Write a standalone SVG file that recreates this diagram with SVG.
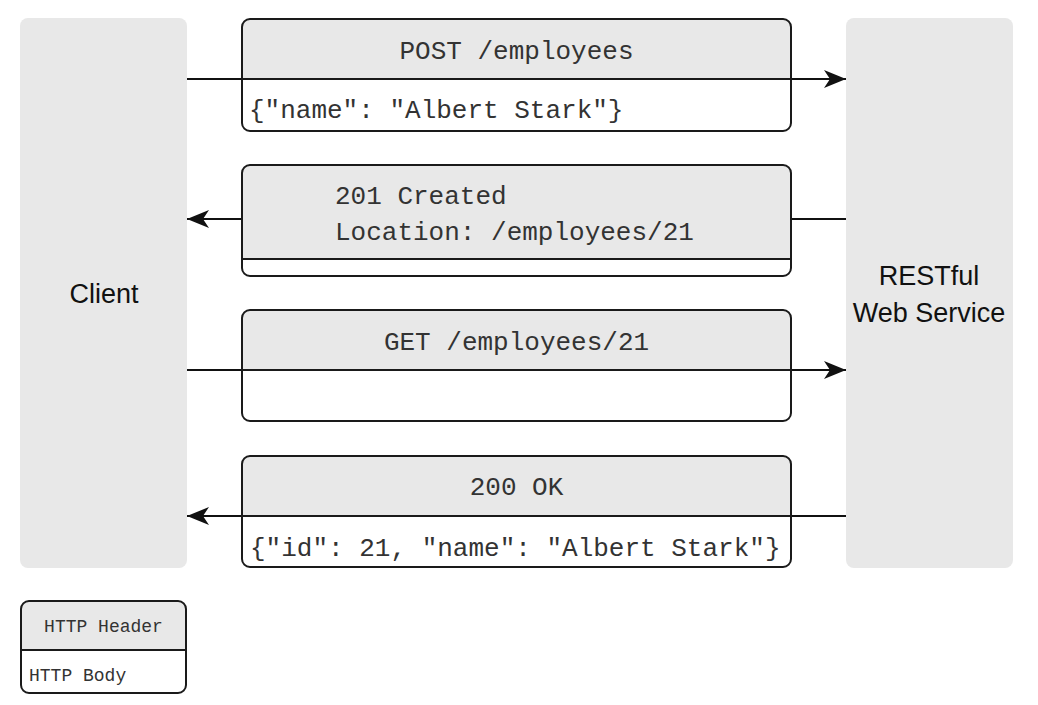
<svg xmlns="http://www.w3.org/2000/svg" width="1038" height="705" viewBox="0 0 1038 705">
<defs>
<style>
.side{fill:#e8e8e8;}
.lbl{font-family:"Liberation Sans",Arial,sans-serif;font-size:27px;fill:#111;text-anchor:middle;}
.mono{font-family:"Liberation Mono","Courier New",monospace;font-size:26px;fill:#333;}
.mid{text-anchor:middle;}
.frame{fill:none;stroke:#1a1a1a;stroke-width:2;}
.body{fill:#fff;}
.head{fill:#e8e8e8;}
.div{stroke:#1a1a1a;stroke-width:2;}
.conn{stroke:#111;stroke-width:2;fill:none;}
.leg{font-family:"Liberation Mono","Courier New",monospace;font-size:18px;fill:#333;}
</style>
<marker id="ah" viewBox="0 0 22 18" refX="22" refY="9" markerWidth="22" markerHeight="18" markerUnits="userSpaceOnUse" orient="auto">
<path d="M0,0 L22,9 L0,18 L6,9 Z" fill="#111"/>
</marker>
</defs>
<rect width="1038" height="705" fill="#fff"/>
<g id="client">
<rect class="side" x="20" y="18" width="167" height="550" rx="8"/>
<text class="lbl" x="104" y="303">Client</text>
</g>
<g id="service">
<rect class="side" x="846" y="18" width="167" height="550" rx="8"/>
<text class="lbl" x="929" y="285">RESTful</text>
<text class="lbl" x="929" y="322">Web Service</text>
</g>
<g id="connectors">
<line class="conn" x1="187" y1="79" x2="846" y2="79" marker-end="url(#ah)"/>
<line class="conn" x1="846" y1="219" x2="187" y2="219" marker-end="url(#ah)"/>
<line class="conn" x1="187" y1="370" x2="846" y2="370" marker-end="url(#ah)"/>
<line class="conn" x1="846" y1="516" x2="187" y2="516" marker-end="url(#ah)"/>
</g>
<g id="post-request">
<rect class="body" x="242" y="19" width="549" height="112" rx="8"/>
<path class="head" d="M242,79 V27 a8,8 0 0 1 8,-8 H783 a8,8 0 0 1 8,8 V79 Z"/>
<line class="div" x1="242" y1="79" x2="791" y2="79"/>
<rect class="frame" x="242" y="19" width="549" height="112" rx="8"/>
<text class="mono mid" x="516.5" y="59">POST /employees</text>
<text class="mono" x="249" y="118">{"name": "Albert Stark"}</text>
</g>
<g id="created-response">
<rect class="body" x="242" y="165" width="549" height="111" rx="8"/>
<path class="head" d="M242,259 V173 a8,8 0 0 1 8,-8 H783 a8,8 0 0 1 8,8 V259 Z"/>
<line class="div" x1="242" y1="259" x2="791" y2="259"/>
<rect class="frame" x="242" y="165" width="549" height="111" rx="8"/>
<text class="mono" x="335" y="204">201 Created</text>
<text class="mono" x="335" y="240">Location: /employees/21</text>
</g>
<g id="get-request">
<rect class="body" x="242" y="310" width="549" height="111" rx="8"/>
<path class="head" d="M242,370 V318 a8,8 0 0 1 8,-8 H783 a8,8 0 0 1 8,8 V370 Z"/>
<line class="div" x1="242" y1="370" x2="791" y2="370"/>
<rect class="frame" x="242" y="310" width="549" height="111" rx="8"/>
<text class="mono mid" x="516.5" y="350">GET /employees/21</text>
</g>
<g id="ok-response">
<rect class="body" x="242" y="456" width="549" height="111" rx="8"/>
<path class="head" d="M242,516 V464 a8,8 0 0 1 8,-8 H783 a8,8 0 0 1 8,8 V516 Z"/>
<line class="div" x1="242" y1="516" x2="791" y2="516"/>
<rect class="frame" x="242" y="456" width="549" height="111" rx="8"/>
<text class="mono mid" x="516.5" y="495">200 OK</text>
<text class="mono" x="250" y="556">{"id": 21, "name": "Albert Stark"}</text>
</g>
<g id="legend">
<rect class="body" x="21" y="601" width="165" height="92" rx="8"/>
<path class="head" d="M21,650 V609 a8,8 0 0 1 8,-8 H178 a8,8 0 0 1 8,8 V650 Z"/>
<line class="div" x1="21" y1="650" x2="186" y2="650"/>
<rect class="frame" x="21" y="601" width="165" height="92" rx="8"/>
<text class="leg mid" x="103.5" y="632">HTTP Header</text>
<text class="leg" x="29" y="681">HTTP Body</text>
</g>
</svg>
